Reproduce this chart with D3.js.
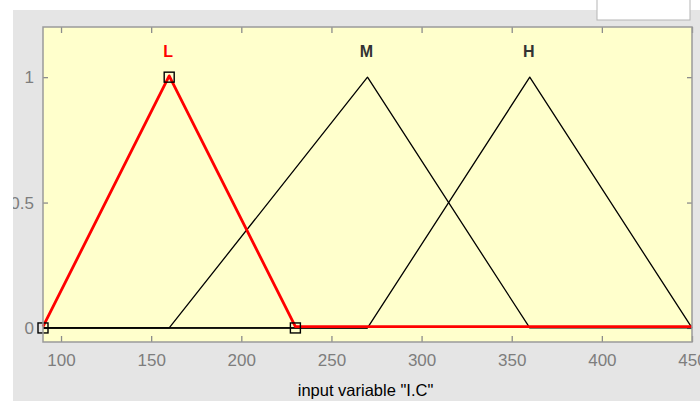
<!DOCTYPE html>
<html>
<head>
<meta charset="utf-8">
<script src="https://cdn.jsdelivr.net/npm/d3@7"></script>
<style>
  body { margin: 0; background: #fff; }
  svg { display: block; font-family: "Liberation Sans", Arial, sans-serif; }
</style>
</head>
<body>
<svg id="chart"></svg>
<script>
// membership functions of input variable "I.C"
const mfNames = ["L", "M", "H"];
const mfParams = [[90, 160, 230], [160, 270, 360], [270, 360, 450]];
const mfColors = ["#ff0000", "#000000", "#000000"];
const xDomain = [90, 450];
const xTicks = [100, 150, 200, 250, 300, 350, 400, 450];
const yTicks = [0, 0.5, 1];
const yTickLabels = ["0", "0.5", "1"];
const selected = 0;

const width = 700, height = 401;
const box = { left: 43, right: 692, top: 27, bottom: 342 };

const svg = d3.select("#chart").attr("width", width).attr("height", height);

// window background
svg.append("rect").attr("width", width).attr("height", height).attr("fill", "#fff");
svg.append("rect").attr("x", 13).attr("y", 10).attr("width", width - 13).attr("height", height - 10)
        .attr("fill", "#e5e5e5");

let x = d3.scaleLinear().domain(xDomain).range([box.left, box.right]);
let y = d3.scaleLinear().domain([-0.056, 1.2]).range([box.bottom, box.top]);

svg.append("rect")
        .attr("x", box.left).attr("y", box.top)
        .attr("width", box.right - box.left).attr("height", box.bottom - box.top)
        .attr("fill", "#ffffcc");

function styleAxis(g) {
        g.select(".domain").remove();
        g.selectAll("line").attr("stroke", "#8c8c8c").attr("stroke-width", 1.3);
        g.selectAll("text").attr("fill", "#7d7d7d").attr("font-size", 17)
                .attr("font-family", "Liberation Sans, Arial, sans-serif");
}

svg.append("g").attr("transform", `translate(0,${box.bottom})`)
        .call(d3.axisBottom(x).tickValues(xTicks).tickSize(-6).tickPadding(12).tickFormat(d3.format("d")))
        .call(styleAxis);
svg.append("g").attr("transform", `translate(0,${box.top})`)
        .call(d3.axisTop(x).tickValues(xTicks).tickSize(-6).tickFormat(""))
        .call(styleAxis);
svg.append("g").attr("transform", `translate(${box.left},0)`)
        .call(d3.axisLeft(y).tickValues(yTicks).tickSize(-5).tickPadding(9).tickFormat((d, i) => yTickLabels[i]))
        .call(styleAxis);
svg.append("g").attr("transform", `translate(${box.right},0)`)
        .call(d3.axisRight(y).tickValues(yTicks).tickSize(-5).tickFormat(""))
        .call(styleAxis);

let line = d3.line()
        .x(d => x(d[0]))
        .y(d => y(d[1]));

function points(p) {
        return [[xDomain[0], 0], [p[0], 0], [p[1], 1], [p[2], 0], [xDomain[1], 0]];
}

let chart = svg.append("g");

// black functions first, selected one on top in red
let order = mfNames.map((d, i) => i).filter(i => i !== selected).concat([selected]);
order.forEach(i => {
        chart.append("path")
                .datum(points(mfParams[i]))
                .attr("d", line)
                .attr("fill", "none")
                .attr("stroke", mfColors[i])
                .attr("stroke-width", i === selected ? 2.8 : 1.3)
                .attr("stroke-linejoin", "round")
                .attr("transform", i === selected ? "translate(0,-1.3)" : null);
});

chart.insert("path", ":first-child")
        .datum([[xDomain[0], 0], [mfParams[2][0], 0]])
        .attr("d", line).attr("stroke", "#000").attr("stroke-width", 1.6).attr("fill", "none");

// vertex markers of selected function
chart.selectAll("rect.marker")
        .data(mfParams[selected].map((v, j) => [v, j === 1 ? 1 : 0]))
        .join("rect")
        .attr("class", "marker")
        .attr("x", d => x(d[0]) - 5).attr("y", d => y(d[1]) - 5)
        .attr("width", 10).attr("height", 10)
        .attr("fill", "none").attr("stroke", "#000").attr("stroke-width", 1.4);

// names above peaks
svg.selectAll("text.mf")
        .data(mfNames)
        .join("text")
        .attr("class", "mf")
        .attr("x", (d, i) => x(mfParams[i][1]) - 1)
        .attr("y", 57)
        .attr("text-anchor", "middle")
        .attr("font-size", 16)
        .attr("font-weight", "bold")
        .attr("fill", (d, i) => i === selected ? "#ff0000" : "#333")
        .text(d => d);

svg.append("rect")
        .attr("x", box.left).attr("y", box.top)
        .attr("width", box.right - box.left).attr("height", box.bottom - box.top)
        .attr("fill", "none").attr("stroke", "#9a9a9a").attr("stroke-width", 1.5);

svg.append("text")
        .attr("x", (box.left + box.right) / 2 - 2)
        .attr("y", 396)
        .attr("text-anchor", "middle")
        .attr("font-size", 16.5)
        .attr("fill", "#000")
        .text('input variable "I.C"');

// window edges clip the tick labels
svg.append("rect").attr("x", 0).attr("y", 0).attr("width", 13).attr("height", height).attr("fill", "#fff");
svg.append("rect").attr("x", 0).attr("y", 0).attr("width", width).attr("height", 10).attr("fill", "#fff");
svg.append("rect").attr("x", 597).attr("y", -2).attr("width", 93).attr("height", 22)
        .attr("fill", "#fff").attr("stroke", "#b5b5b5");
</script>
</body>
</html>
